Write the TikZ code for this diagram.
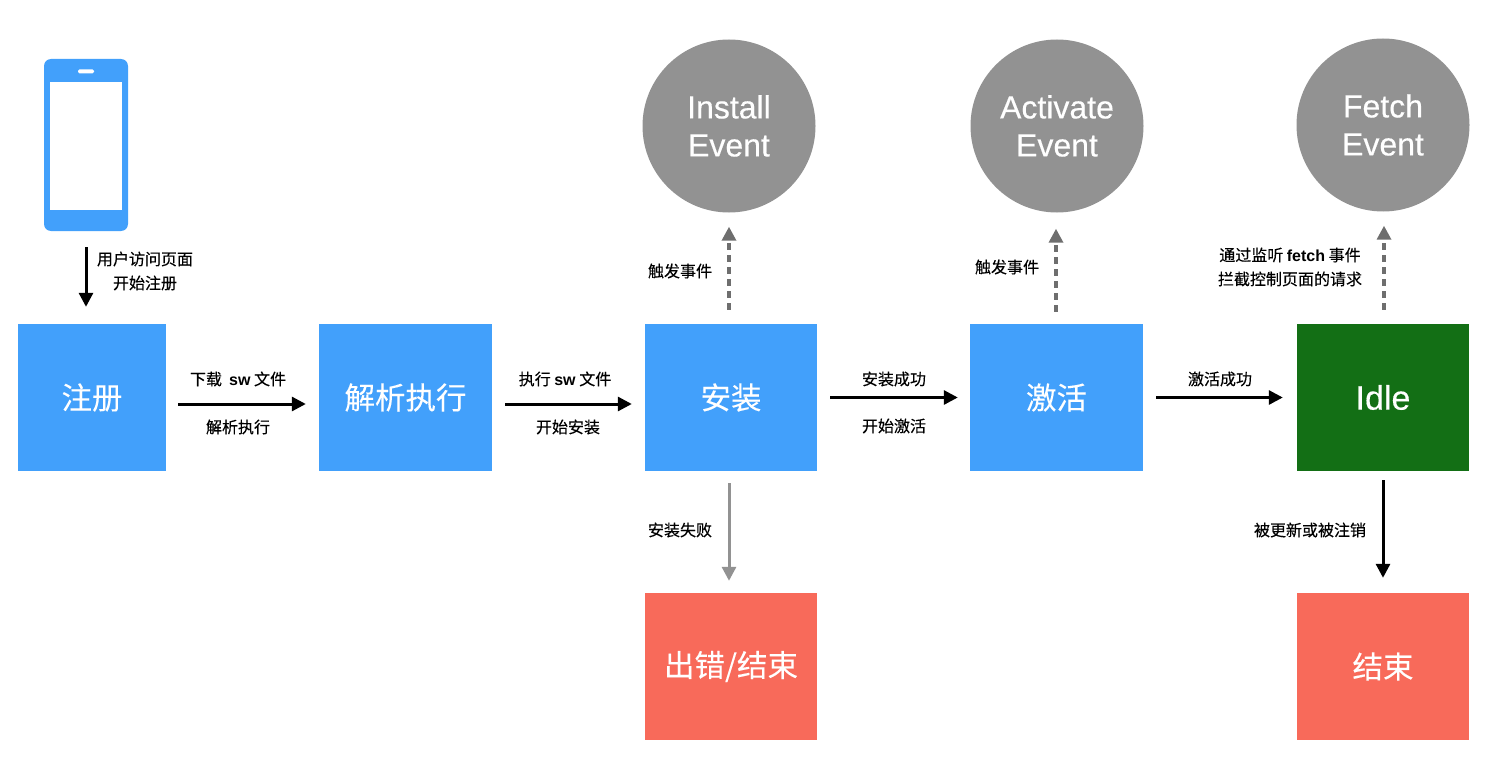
\documentclass[tikz,border=0pt]{standalone}
\usepackage{fontspec}
\setmainfont{Liberation Sans}
\newfontfamily\cjk[FakeBold=0.25]{Noto Sans CJK SC}
\newfontfamily\bigcjk[FakeBold=0.15]{Noto Sans CJK SC}
\newfontfamily\biglat[FakeBold=0.3]{Liberation Sans}
\usetikzlibrary{arrows.meta}
\definecolor{bluebox}{HTML}{42A0FB}
\definecolor{greenbox}{HTML}{136F15}
\definecolor{redbox}{HTML}{F86A5A}
\definecolor{graycirc}{HTML}{929292}
\definecolor{dashgray}{HTML}{6E6E6E}
\tikzset{
  x=1pt,y=-1pt,
  box/.style={minimum width=#1,minimum height=147pt,inner sep=0pt,text=white,font=\fontsize{30.5}{36}\selectfont\bigcjk},
  circ/.style={circle,fill=graycirc,minimum size=173pt,inner sep=0pt,text=white,align=center,font=\fontsize{32}{38}\selectfont\biglat},
  lbl/.style={inner sep=0pt,align=center,text=black,font=\fontsize{16}{24}\selectfont\cjk},
  conn/.style={line width=3pt,-{Triangle[length=14pt,width=14pt]}},
  dashconn/.style={line width=3.3pt,draw=dashgray,dash pattern=on 7pt off 5pt,-{Triangle[length=14pt,width=14pt,fill=dashgray]}},
}
\newcommand{\lat}[1]{{\fontspec{Liberation Sans}\bfseries #1}}
\begin{document}
\begin{tikzpicture}
\useasboundingbox (0,0) rectangle (1489,781);
% phone
\node[fill=bluebox,rounded corners=7pt,minimum width=84pt,minimum height=172pt,inner sep=0pt] (phone) at (86,145) {};
\node[fill=white,minimum width=72pt,minimum height=128pt,inner sep=0pt] (screen) at (86,146) {};
\node[fill=white,rounded corners=1.5pt,minimum width=16pt,minimum height=4pt,inner sep=0pt] (speaker) at (86,71.5) {};
% boxes
\node[box=148pt,fill=bluebox] (reg) at (92,397.5) {\raisebox{-2pt}{注册}};
\node[box=173pt,fill=bluebox] (parse) at (405.5,397.5) {\raisebox{-2pt}{解析执行}};
\node[box=172pt,fill=bluebox] (inst) at (731,397.5) {\raisebox{-2pt}{安装}};
\node[box=173pt,fill=bluebox] (act) at (1056.5,397.5) {\raisebox{-2pt}{激活}};
\node[box=172pt,fill=greenbox] (idle) at (1383,397.5) {\fontsize{34}{36}\selectfont\biglat Idle};
\node[box=172pt,fill=redbox] (err) at (731,666.5) {\raisebox{-2pt}{出错/结束}};
\node[box=172pt,fill=redbox] (end) at (1383,666.5) {\raisebox{-2pt}{结束}};
% circles
\node[circ] (cinst) at (729,126) {Install\\Event};
\node[circ] (cact) at (1057,126) {Activate\\Event};
\node[circ] (cfetch) at (1383,125) {Fetch\\Event};
% connectors
\draw[conn] ([yshift=-16pt]phone.south) -- ([yshift=17pt]reg.north -| phone.south);
\draw[conn] ([shift={(12,6.5)}]reg.east) -- ([shift={(-13,6.5)}]parse.west);
\draw[conn] ([shift={(13,6.5)}]parse.east) -- ([shift={(-13,6.5)}]inst.west);
\draw[conn] ([shift={(13,0)}]inst.east) -- ([shift={(-12,0)}]act.west);
\draw[conn] ([shift={(13,0)}]act.east) -- ([shift={(-14,0)}]idle.west);
\draw[dashconn] ([shift={(-2,-14)}]inst.north) -- ([shift={(0,14)}]cinst.south);
\draw[dashconn] ([shift={(-0.5,-12)}]act.north) -- ([shift={(-1,16)}]cact.south);
\draw[dashconn] ([shift={(1,-14)}]idle.north) -- ([shift={(1,14)}]cfetch.south);
\draw[conn,draw=graycirc,-{Triangle[length=14pt,width=14pt,fill=graycirc]}] ([shift={(-2,12)}]inst.south) -- ([shift={(-2,-12)}]err.north);
\draw[conn] ([yshift=-9pt]idle.south) -- ([yshift=15pt]end.north);
% labels
\node[lbl] (l1) at (145,271) {用户访问页面\\开始注册};
\node[lbl] (l2) at (238,379) {下载\ \ \lat{sw} 文件};
\node[lbl] (l3) at (238,427) {解析执行};
\node[lbl] (l4) at (565,379) {执行 \lat{sw} 文件};
\node[lbl] (l5) at (568,427) {开始安装};
\node[lbl] (l6) at (894,379) {安装成功};
\node[lbl] (l7) at (894,426) {开始激活};
\node[lbl] (l8) at (1220,379) {激活成功};
\node[lbl] (l9) at (680,271) {触发事件};
\node[lbl] (l10) at (1007,267) {触发事件};
\node[lbl] (l11) at (1290,267) {通过监听 \lat{fetch} 事件\\拦截控制页面的请求};
\node[lbl] (l12) at (680,530) {安装失败};
\node[lbl] (l13) at (1310,530) {被更新或被注销};
\end{tikzpicture}
\end{document}
